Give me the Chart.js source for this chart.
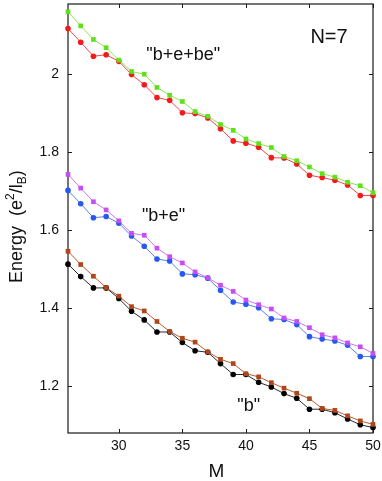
<!DOCTYPE html>
<html>
<head>
<meta charset="utf-8">
<script src="https://cdn.jsdelivr.net/npm/chart.js@4/dist/chart.umd.min.js"></script>
<style>
  html, body { margin: 0; padding: 0; background: #fff; }
  canvas { display: block; }
</style>
</head>
<body>
<canvas id="c" width="382" height="481"></canvas>
<script>
// ---- data ----
const M = [26,27,28,29,30,31,32,33,34,35,36,37,38,39,40,41,42,43,44,45,46,47,48,49,50];

const bebeSquares = [2.160,2.124,2.089,2.068,2.036,2.007,2.000,1.966,1.946,1.930,1.904,1.892,1.871,1.856,1.834,1.822,1.812,1.789,1.778,1.762,1.745,1.736,1.723,1.714,1.696];
const bebeCircles = [2.117,2.082,2.046,2.050,2.033,1.999,1.973,1.940,1.933,1.901,1.899,1.888,1.860,1.829,1.823,1.813,1.786,1.785,1.770,1.741,1.735,1.728,1.716,1.689,1.689];

const beSquares = [1.743,1.708,1.673,1.652,1.624,1.592,1.587,1.554,1.532,1.516,1.493,1.478,1.459,1.443,1.421,1.409,1.398,1.375,1.366,1.350,1.332,1.324,1.311,1.301,1.284];
const beCircles = [1.702,1.668,1.632,1.635,1.618,1.585,1.559,1.526,1.521,1.488,1.486,1.477,1.446,1.416,1.410,1.401,1.373,1.371,1.358,1.327,1.321,1.316,1.305,1.276,1.276];

const bSquares = [1.546,1.512,1.482,1.453,1.431,1.404,1.393,1.366,1.340,1.323,1.313,1.288,1.269,1.258,1.232,1.224,1.209,1.195,1.182,1.168,1.143,1.138,1.124,1.111,1.102];
const bCircles = [1.513,1.481,1.452,1.452,1.425,1.392,1.370,1.339,1.339,1.312,1.291,1.287,1.258,1.230,1.230,1.210,1.198,1.181,1.169,1.141,1.141,1.132,1.116,1.101,1.094];

const xTicks = [30,35,40,45,50];
const xTickLabels = ['30','35','40','45','50'];
const yTicks = [1.2,1.4,1.6,1.8,2.0];
const yTickLabels = ['1.2','1.4','1.6','1.8','2'];

const xTitle = 'M';
const annotations = [
  { text: '"b+e+be"', x: 35.07, y: 2.036, size: 18 },
  { text: '"b+e"',    x: 33.52, y: 1.624, size: 18 },
  { text: '"b"',      x: 40.22, y: 1.137, size: 18 },
  { text: 'N=7',      x: 46.54, y: 2.079, size: 20 }
];

const FONT = '"Liberation Sans", Arial, Helvetica, sans-serif';

function pts(arr) { return M.map((m, i) => ({ x: m, y: arr[i] })); }

function ds(data, color, lineColor, style) {
  return {
    data: pts(data),
    borderColor: lineColor,
    backgroundColor: color,
    pointBorderColor: color,
    pointBackgroundColor: color,
    borderWidth: 1,
    pointStyle: style,
    pointRadius: style === 'rect' ? 3.3 : 2.8,
    pointBorderWidth: 0,
    tension: 0,
    clip: false
  };
}

const framePlugin = {
  id: 'frame',
  beforeDatasetsDraw(chart) {
    const { ctx, chartArea: a, scales } = chart;
    ctx.save();
    ctx.strokeStyle = '#1a1a1a';
    ctx.lineWidth = 1.2;
    ctx.strokeRect(a.left, a.top, a.right - a.left, a.bottom - a.top);
    const tl = 4;
    ctx.lineWidth = 1;
    ctx.beginPath();
    scales.x.ticks.forEach(t => {
      const px = Math.round(scales.x.getPixelForValue(t.value)) + 0.5;
      ctx.moveTo(px, a.bottom); ctx.lineTo(px, a.bottom - tl);
      ctx.moveTo(px, a.top); ctx.lineTo(px, a.top + tl);
    });
    scales.y.ticks.forEach(t => {
      const py = Math.round(scales.y.getPixelForValue(t.value)) + 0.5;
      ctx.moveTo(a.left, py); ctx.lineTo(a.left + tl, py);
      ctx.moveTo(a.right, py); ctx.lineTo(a.right - tl, py);
    });
    ctx.stroke();
    ctx.restore();
  },
  afterDraw(chart) {
    const { ctx, chartArea: a, scales } = chart;
    ctx.save();
    ctx.fillStyle = '#111';
    ctx.textAlign = 'center';
    ctx.textBaseline = 'alphabetic';
    annotations.forEach(an => {
      ctx.font = an.size + 'px ' + FONT;
      ctx.fillText(an.text, scales.x.getPixelForValue(an.x), scales.y.getPixelForValue(an.y));
    });
    ctx.font = '19px ' + FONT;
    ctx.textAlign = 'center';
    ctx.fillText(xTitle, (a.left + a.right) / 2 - 4, a.bottom + 44);
    ctx.translate(21.7, 283);
    ctx.rotate(-Math.PI / 2);
    ctx.textAlign = 'left';
    let x = 0;
    const big = '18px ' + FONT, small = '12px ' + FONT;
    const parts = [
      { t: 'Energy  (e', f: big, dy: 0 },
      { t: '2', f: small, dy: -8 },
      { t: '/l', f: big, dy: 0 },
      { t: 'B', f: small, dy: 4 },
      { t: ')', f: big, dy: 0 }
    ];
    parts.forEach(p => {
      ctx.font = p.f;
      ctx.fillText(p.t, x, p.dy);
      x += ctx.measureText(p.t).width;
    });
    ctx.restore();
  }
};

new Chart(document.getElementById('c'), {
  type: 'line',
  data: {
    datasets: [
      ds(bebeSquares, '#5fe01a', '#86ea50', 'rect'),
      ds(bebeCircles, '#f21a1a', '#f24848', 'circle'),
      ds(beSquares, '#c64cf5', '#d274f2', 'rect'),
      ds(beCircles, '#2858ee', '#5a80ee', 'circle'),
      ds(bSquares, '#b0441a', '#bb5a30', 'rect'),
      ds(bCircles, '#000000', '#2a2a2a', 'circle')
    ]
  },
  options: {
    responsive: false,
    animation: false,
    devicePixelRatio: 1,
    layout: { padding: { top: 1, right: 9, left: 0, bottom: 0 } },
    plugins: { legend: { display: false }, tooltip: { enabled: false } },
    scales: {
      x: {
        type: 'linear', min: 26, max: 50,
        afterBuildTicks: s => { s.ticks = xTicks.map(v => ({ value: v })); },
        afterFit: s => { s.height = 48; s.paddingLeft = 0; s.paddingRight = 0; },
        grid: { display: false, drawTicks: false },
        border: { display: false },
        ticks: {
          padding: 5, color: '#111', maxRotation: 0, autoSkip: false,
          font: { family: FONT, size: 14 },
          callback: (v, i) => xTickLabels[i]
        }
      },
      y: {
        type: 'linear', min: 1.08, max: 2.18,
        afterBuildTicks: s => { s.ticks = yTicks.map(v => ({ value: v })); },
        afterFit: s => { s.width = 68; s.paddingTop = 0; s.paddingBottom = 0; },
        grid: { display: false, drawTicks: false },
        border: { display: false },
        ticks: {
          padding: 9, color: '#111', autoSkip: false,
          font: { family: FONT, size: 14 },
          callback: (v, i) => yTickLabels[i]
        }
      }
    }
  },
  plugins: [framePlugin]
});
</script>
</body>
</html>
